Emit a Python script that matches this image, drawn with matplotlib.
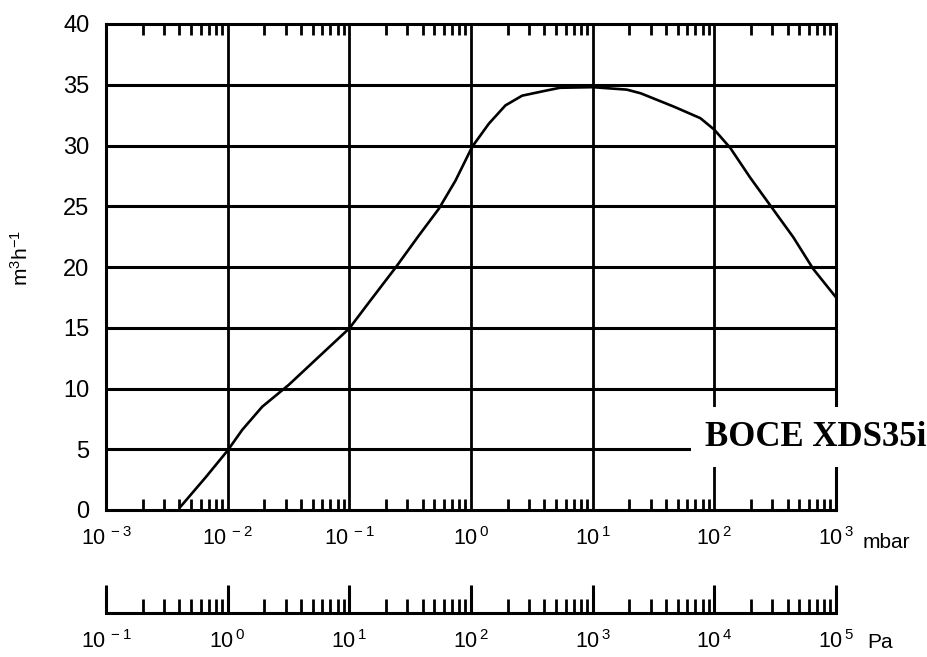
import numpy as np
import matplotlib
matplotlib.use("Agg")
import matplotlib.pyplot as plt
from matplotlib.ticker import LogLocator, NullFormatter

plt.rcParams['font.family'] = ['Liberation Sans', 'DejaVu Sans']
plt.rcParams['mathtext.fontset'] = 'custom'
plt.rcParams['mathtext.rm'] = 'Liberation Sans'
plt.rcParams['mathtext.default'] = 'regular'

# pumping speed curve: log10(pressure / mbar) and m3/h
log_p = [-2.385, -2.18, -2.0, -1.88, -1.716, -1.498, -1.252, -1.0, -0.83,
         -0.62, -0.428, -0.264, -0.128, 0.01, 0.147, 0.283, 0.42, 0.584,
         0.73, 1.0, 1.28, 1.394, 1.667, 1.885, 2.0, 2.131, 2.295, 2.472,
         2.649, 2.812, 3.0]
speed = [0.3, 2.7, 4.9, 6.6, 8.5, 10.3, 12.6, 14.95, 17.2,
         19.95, 22.6, 24.8, 27.1, 29.9, 31.8, 33.3, 34.1, 34.45,
         34.75, 34.8, 34.6, 34.3, 33.2, 32.25, 31.3, 29.8, 27.35, 24.9,
         22.45, 19.85, 17.5]

mbar_exp = [-3, -2, -1, 0, 1, 2, 3]
pa_exp = [-1, 0, 1, 2, 3, 4, 5]
y_ticks = [0, 5, 10, 15, 20, 25, 30, 35, 40]
pump_name = 'BOCE XDS35i'

pressure_mbar = [10.0**v for v in log_p]
lw = 2.2

fig = plt.figure(figsize=(9.27, 6.57), dpi=100)
ax = fig.add_axes([106/927, 1-510/657, 730/927, 486/657])

ax.plot(pressure_mbar, speed, color='black', lw=1.9, zorder=3,
        solid_joinstyle='round')
ax.set_xscale('log')
ax.set_xlim(10.0**mbar_exp[0], 10.0**mbar_exp[-1])
ax.set_ylim(y_ticks[0], y_ticks[-1])

for e in mbar_exp[1:-1]:
    ax.axvline(10.0**e, color='black', lw=2.0, zorder=2)
for v in y_ticks[1:-1]:
    ax.axhline(v, color='black', lw=lw, zorder=2)
for s in ax.spines.values():
    s.set_linewidth(lw)

ax.set_xticks([10.0**e for e in mbar_exp],
              [r'$10^{\,%d}$' % e for e in mbar_exp])
ax.xaxis.set_minor_locator(LogLocator(base=10, subs=np.arange(2, 10), numticks=20))
ax.xaxis.set_minor_formatter(NullFormatter())
ax.tick_params(axis='x', which='major', length=0, pad=12, labelsize=15.5)
ax.tick_params(axis='x', which='minor', direction='in', top=True, bottom=True,
               length=8, width=2.0)
ax.set_yticks(y_ticks)
ax.tick_params(axis='y', length=0, pad=12, labelsize=17)
fig.text(21/927, 1-258/657, r'm$^3$h$^{-1}$', fontsize=15, rotation=90,
         va='center', ha='center')

ax.text(10**1.923, 6.0, pump_name, fontsize=25, fontweight='bold',
        family='Liberation Serif', va='center', ha='left', zorder=5,
        clip_on=False,
        bbox=dict(boxstyle='square,pad=0.4', fc='white', ec='none'))
fig.text(863/927, 1-543/657, 'mbar', fontsize=15, va='center', ha='left')

# second scale in Pa
ax2 = fig.add_axes([106/927, 1-613/657, 730/927, 0.05])
ax2.set_xscale('log')
ax2.set_xlim(10.0**pa_exp[0], 10.0**pa_exp[-1])
ax2.set_yticks([])
for side in ['top', 'left', 'right']:
    ax2.spines[side].set_visible(False)
ax2.spines['bottom'].set_linewidth(lw)
ax2.patch.set_alpha(0)
ax2.set_xticks([10.0**e for e in pa_exp],
               [r'$10^{\,%d}$' % e for e in pa_exp])
ax2.xaxis.set_minor_locator(LogLocator(base=10, subs=np.arange(2, 10), numticks=20))
ax2.xaxis.set_minor_formatter(NullFormatter())
ax2.tick_params(axis='x', which='major', direction='in', length=20, width=lw,
                pad=12, labelsize=15.5)
ax2.tick_params(axis='x', which='minor', direction='in', length=10, width=2.0)
fig.text(867/927, 1-642/657, 'Pa', fontsize=15, va='center', ha='left')

fig.savefig('out.png', dpi=100)
